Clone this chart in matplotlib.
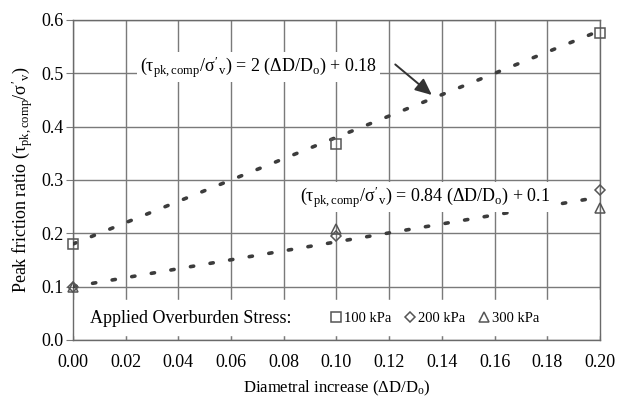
import matplotlib
matplotlib.use("Agg")
import matplotlib.pyplot as plt
import numpy as np

plt.rcParams['font.family'] = ['Liberation Serif', 'DejaVu Serif']
plt.rcParams['mathtext.fontset'] = 'custom'
plt.rcParams['mathtext.rm'] = 'Liberation Serif'
plt.rcParams['mathtext.it'] = 'Liberation Serif'
plt.rcParams['mathtext.bf'] = 'Liberation Serif:bold'

# Data
strain = [0.00, 0.10, 0.20]
ratio_100 = [0.18, 0.368, 0.575]
ratio_200 = [0.10, 0.195, 0.281]
ratio_300 = [0.10, 0.208, 0.247]
fit_x = [0.00, 0.20]
fit_upper = [0.18, 0.58]     # 2 (dD/D0) + 0.18
fit_lower = [0.10, 0.268]    # 0.84 (dD/D0) + 0.1
series_labels = ['100 kPa', '200 kPa', '300 kPa']
xticks = [0.00, 0.02, 0.04, 0.06, 0.08, 0.10, 0.12, 0.14, 0.16, 0.18, 0.20]
yticks = [0.0, 0.1, 0.2, 0.3, 0.4, 0.5, 0.6]

fig = plt.figure(figsize=(6.2, 4.13), dpi=100)
ax = fig.add_axes([0.1177, 0.1768, 0.8500, 0.7748])

grid_c = '#7a7a7a'
ax.set_axisbelow(True)
ax.grid(True, color=grid_c, linewidth=1.0)

line_kw = dict(color='#3c3c3c', lw=2.6, linestyle=(0, (0.9, 4.6)),
               dash_capstyle='round', zorder=3)
ax.plot(fit_x, fit_upper, **line_kw)
ax.plot(fit_x, fit_lower, **line_kw)

mk = dict(linestyle='none', markerfacecolor='none', markeredgecolor='#555555',
          markeredgewidth=1.1, clip_on=False, zorder=4)
h1, = ax.plot(strain, ratio_100, marker='s', markersize=6.5, label=series_labels[0], **mk)
h2, = ax.plot(strain, ratio_200, marker='D', markersize=5, label=series_labels[1], **mk)
h3, = ax.plot(strain, ratio_300, marker='^', markersize=6.5, label=series_labels[2], **mk)

ax.set_xlim(0, 0.2)
ax.set_ylim(0, 0.6)
ax.set_xticks(xticks)
ax.set_yticks(yticks)
ax.set_xticklabels([f'{v:.2f}' for v in xticks])
ax.set_yticklabels([f'{v:.1f}' for v in yticks])
ax.tick_params(axis='x', direction='in', length=5, color=grid_c, labelsize=13, pad=10)
ax.tick_params(axis='y', direction='out', length=5, color=grid_c, labelsize=13, pad=2)
for s in ax.spines.values():
    s.set_color('#6a6a6a')
    s.set_linewidth(1.0)

# white band behind the legend
ax.axhspan(0.009, 0.075, color='white', zorder=1)

ax.text(0.0065, 0.041, 'Applied Overburden Stress:', fontsize=13,
        va='center', ha='left', zorder=5)
leg = ax.legend(handles=[h1, h2, h3], ncol=3, frameon=False, fontsize=10.5,
                loc='center left', bbox_to_anchor=(0.49, 0.068),
                handlelength=0.6, handletextpad=0.25, columnspacing=1.0,
                borderpad=0, borderaxespad=0)

ax.set_xlabel(r"Diametral increase ($\Delta$D/D$_{\mathrm{o}}$)", fontsize=12, labelpad=6)
ax.set_ylabel(r"Peak friction ratio ($\tau_{\mathrm{pk,comp}}$/$\sigma'_{\mathrm{v}}$)",
              fontsize=13, labelpad=4)

box = dict(facecolor='white', edgecolor='none', pad=2)
ax.text(0.0705, 0.512,
        r"($\tau_{\mathrm{pk,comp}}$/$\sigma'_{\mathrm{v}}$) = 2 ($\Delta$D/D$_{\mathrm{o}}$) + 0.18",
        fontsize=13, ha='center', va='center', bbox=box, zorder=5)
ax.text(0.1335, 0.268,
        r"($\tau_{\mathrm{pk,comp}}$/$\sigma'_{\mathrm{v}}$) = 0.84 ($\Delta$D/D$_{\mathrm{o}}$) + 0.1",
        fontsize=13, ha='center', va='center', bbox=box, zorder=5)

ax.annotate('', xy=(0.137, 0.456), xytext=(0.1215, 0.52),
            arrowprops=dict(arrowstyle='-|>,head_length=1.0,head_width=0.45',
                            color='#333333', lw=1.4), zorder=6)

fig.savefig('out.png', dpi=100)
